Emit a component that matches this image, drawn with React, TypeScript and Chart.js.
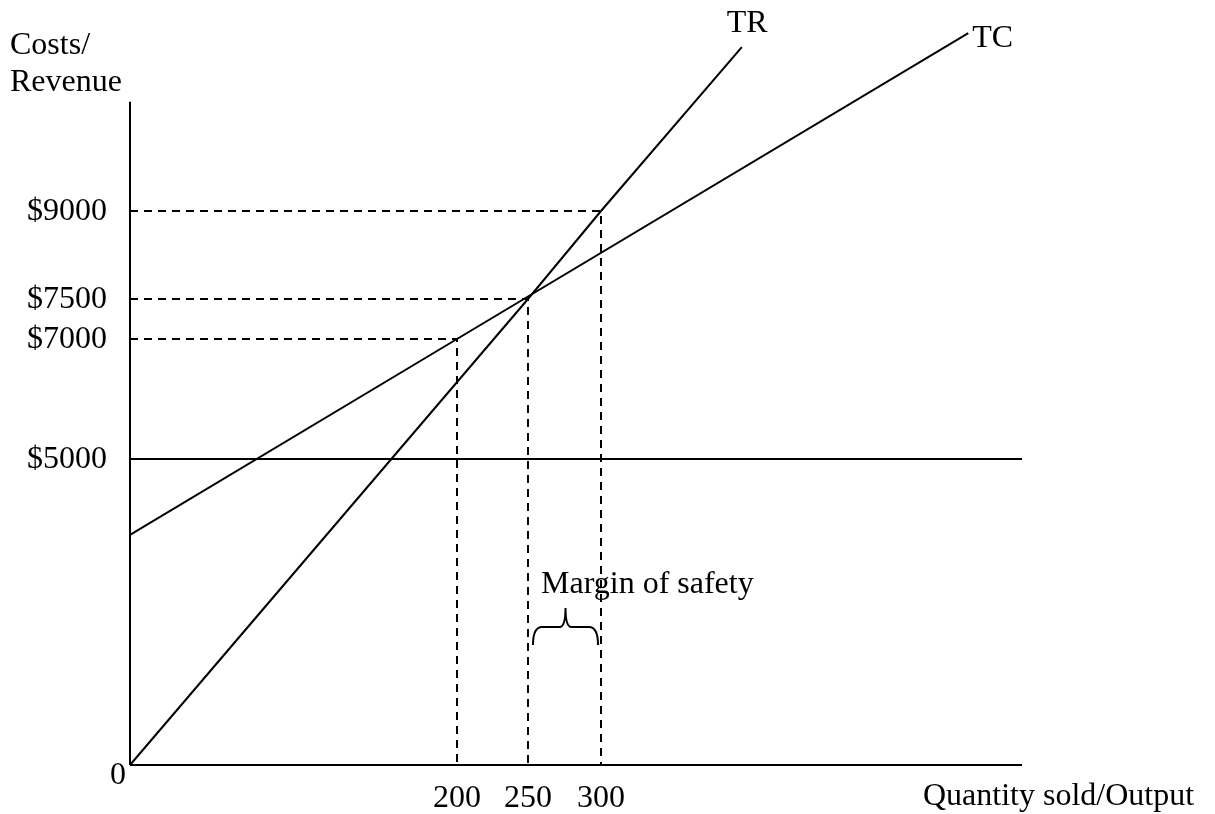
import React, { useEffect, useRef } from 'react';
import { Chart, LinearScale, registerables } from 'chart.js';

// ---------------- Data (the original is a schematic) ----------------
// Quantity tick labels (units of output)
const quantityTicks = [200, 250, 300];
const quantityTickLabels = ['200', '250', '300'];
// Cost / revenue tick labels ($)
const costTicks = [5000, 7000, 7500, 9000];
const costTickLabels = ['$5000', '$7000', '$7500', '$9000'];
const originLabel = '0';

// Total revenue (TR)
const trQuantity = [0, 250, 300, 397];
const trValue = [0, 7500, 9000, 11820];
// Total cost (TC)
const tcQuantity = [0, 200, 553];
const tcValue = [3760, 7000, 12060];
// Fixed cost level
const fixedQuantity = [0, 590];
const fixedValue = [5000, 5000];
// Guide points joined to both axes with dashed lines
const guideQuantity = [200, 250, 300];
const guideValue = [7000, 7500, 9000];
// Margin of safety (between break-even output and actual output)
const marginOfSafety = [250, 300];
// Axis extents
const quantityAxisEnd = 590;
const costAxisEnd = 10880;
const costScaleMax = 12200;

const lineLabels = ['TR', 'TC'];
const xTitle = 'Quantity sold/Output';
const yTitle = ['Costs/', 'Revenue'];
const marginLabel = 'Margin of safety';

// ---------------- Scale layout (schematic, not drawn to scale) ----------------
// value -> pixel offset along the axis
const AXIS_STOPS: Record<string, { len: number; stops: number[][] }> = {
  x: { len: 892, stops: [[0, 0], [200, 327], [250, 398], [300, 471], [590, 892]] },
  y: { len: 740, stops: [[0, 0], [5000, 306], [7000, 426], [7500, 466], [9000, 554], [12200, 740]] },
};

class SchematicScale extends LinearScale {
  static id = 'schematic';
  static defaults = {};
  toDecimal(v: number) {
    const cfg = AXIS_STOPS[(this as any).id];
    const s = cfg.stops;
    for (let i = 1; i < s.length; i++) {
      if (v <= s[i][0] || i === s.length - 1) {
        const [v0, p0] = s[i - 1];
        const [v1, p1] = s[i];
        return (p0 + ((v - v0) / (v1 - v0)) * (p1 - p0)) / cfg.len;
      }
    }
    return 0;
  }
  getPixelForValue(value: number) {
    if (value === null || value === undefined || Number.isNaN(value)) return NaN;
    return (this as any).getPixelForDecimal(this.toDecimal(value));
  }
  getValueForPixel(pixel: number) {
    const cfg = AXIS_STOPS[(this as any).id];
    const d = (this as any).getDecimalForPixel(pixel) * cfg.len;
    const s = cfg.stops;
    for (let i = 1; i < s.length; i++) {
      if (d <= s[i][1] || i === s.length - 1) {
        const [v0, p0] = s[i - 1];
        const [v1, p1] = s[i];
        return v0 + ((d - p0) / (p1 - p0)) * (v1 - v0);
      }
    }
    return 0;
  }
}

Chart.register(...registerables, SchematicScale);

const FONT = '32px "Liberation Serif", "Times New Roman", serif';

const pts = (xs: number[], ys: number[]) => xs.map((x, i) => ({ x, y: ys[i] }));

const solid = {
  borderColor: '#000',
  borderWidth: 2,
  pointRadius: 0,
  pointHoverRadius: 0,
  showLine: true,
  clip: false as any,
  fill: false,
  tension: 0,
};
const dashed = { ...solid, borderDash: [8, 6] };

const textPlugin = {
  id: 'diagramText',
  afterDraw(chart: any) {
    const { ctx } = chart;
    const xs = chart.scales.x;
    const ys = chart.scales.y;
    const x0 = xs.getPixelForValue(0);
    const y0 = ys.getPixelForValue(0);
    ctx.save();
    ctx.fillStyle = '#000';
    ctx.strokeStyle = '#000';
    ctx.font = FONT;

    // cost tick labels
    ctx.textAlign = 'right';
    ctx.textBaseline = 'middle';
    costTicks.forEach((v, i) => ctx.fillText(costTickLabels[i], x0 - 23, ys.getPixelForValue(v) + 1));

    // origin
    ctx.textBaseline = 'alphabetic';
    ctx.fillText(originLabel, x0 - 4, y0 + 19);

    // quantity tick labels
    ctx.textAlign = 'center';
    quantityTicks.forEach((v, i) => ctx.fillText(quantityTickLabels[i], xs.getPixelForValue(v), y0 + 42));

    // axis titles
    ctx.textAlign = 'left';
    ctx.fillText(xTitle, 923, y0 + 40);
    ctx.fillText(yTitle[0], 10, 54);
    ctx.fillText(yTitle[1], 10, 91);

    // line labels
    const trX = xs.getPixelForValue(trQuantity[trQuantity.length - 1]);
    const trY = ys.getPixelForValue(trValue[trValue.length - 1]);
    ctx.fillText(lineLabels[0], trX - 15, trY - 15);
    const tcX = xs.getPixelForValue(tcQuantity[tcQuantity.length - 1]);
    const tcY = ys.getPixelForValue(tcValue[tcValue.length - 1]);
    ctx.fillText(lineLabels[1], tcX + 4, tcY + 14);

    // margin of safety
    const mL = xs.getPixelForValue(marginOfSafety[0]);
    const mR = xs.getPixelForValue(marginOfSafety[1]);
    ctx.fillText(marginLabel, mL + 13, y0 - 172);

    const xl = mL + 5;
    const xr = mR - 3;
    const xm = (xl + xr) / 2;
    const yArm = y0 - 138;
    const yEnd = y0 - 120;
    const yTip = y0 - 157;
    ctx.lineWidth = 2;
    ctx.beginPath();
    ctx.moveTo(xl, yEnd);
    ctx.quadraticCurveTo(xl, yArm, xl + 9, yArm);
    ctx.lineTo(xm - 6, yArm);
    ctx.quadraticCurveTo(xm, yArm, xm, yTip);
    ctx.quadraticCurveTo(xm, yArm, xm + 6, yArm);
    ctx.lineTo(xr - 9, yArm);
    ctx.quadraticCurveTo(xr, yArm, xr, yEnd);
    ctx.stroke();
    ctx.restore();
  },
};

export default function App() {
  const ref = useRef<HTMLCanvasElement>(null);
  useEffect(() => {
    const guides = guideQuantity.map((q, i) => ({
      ...dashed,
      label: 'guide ' + q,
      data: [
        { x: 0, y: guideValue[i] },
        { x: q, y: guideValue[i] },
        { x: q, y: 0 },
      ],
    }));
    const chart = new Chart(ref.current as HTMLCanvasElement, {
      type: 'scatter',
      data: {
        datasets: [
          { ...solid, label: 'TR', data: pts(trQuantity, trValue) },
          { ...solid, label: 'TC', data: pts(tcQuantity, tcValue) },
          { ...solid, label: 'Fixed cost', data: pts(fixedQuantity, fixedValue) },
          { ...solid, label: 'x axis', data: [{ x: 0, y: 0 }, { x: quantityAxisEnd, y: 0 }] },
          { ...solid, label: 'y axis', data: [{ x: 0, y: 0 }, { x: 0, y: costAxisEnd }] },
          ...guides,
        ] as any,
      },
      options: {
        animation: false,
        responsive: true,
        maintainAspectRatio: false,
        events: [],
        layout: { padding: { left: 130, right: 193, top: 25, bottom: 49 } },
        plugins: { legend: { display: false }, tooltip: { enabled: false } },
        scales: {
          x: { type: 'schematic' as any, min: 0, max: quantityAxisEnd, display: false },
          y: { type: 'schematic' as any, min: 0, max: costScaleMax, display: false },
        },
      },
      plugins: [textPlugin],
    });
    return () => chart.destroy();
  }, []);
  return (
    <div style={{ position: 'fixed', left: 0, top: 0, width: 1215, height: 814, background: '#fff' }}>
      <canvas ref={ref} />
    </div>
  );
}
